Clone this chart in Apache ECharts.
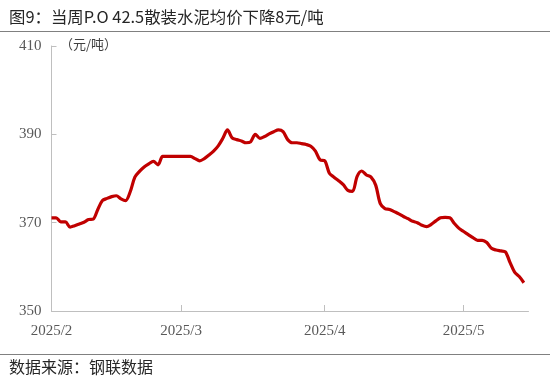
<!DOCTYPE html>
<html><head><meta charset="utf-8">
<script src="https://cdn.jsdelivr.net/npm/echarts@6/dist/echarts.min.js"></script>
<style>html,body{margin:0;padding:0;background:#fff}#c{width:550px;height:381px}</style>
</head><body><div id="c"></div>
<script>
const titleText = '图9：当周P.O 42.5散装水泥均价下降8元/吨';
const sourceText = '数据来源：钢联数据';
const unitText = '（元/吨）';
const monthTicks = ['2025-02-01','2025-03-01','2025-04-01','2025-05-01'];
const xRange = ['2025-02-01','2025-05-15'];
const yRange = [350, 410, 20];
const dates = [
'02-01','02-02','02-03','02-04','02-05','02-06','02-07','02-08','02-09','02-10',
'02-11','02-12','02-13','02-14','02-15','02-16','02-17','02-18','02-19','02-20',
'02-21','02-22','02-23','02-24','02-25','02-26','02-27','02-28','03-01','03-02',
'03-03','03-04','03-05','03-06','03-07','03-08','03-09','03-10','03-11','03-12',
'03-13','03-14','03-15','03-16','03-17','03-18','03-19','03-20','03-21','03-22',
'03-23','03-24','03-25','03-26','03-27','03-28','03-29','03-30','03-31','04-01',
'04-02','04-03','04-04','04-05','04-06','04-07','04-08','04-09','04-10','04-11',
'04-12','04-13','04-14','04-15','04-16','04-17','04-18','04-19','04-20','04-21',
'04-22','04-23','04-24','04-25','04-26','04-27','04-28','04-29','04-30','05-01',
'05-02','05-03','05-04','05-05','05-06','05-07','05-08','05-09','05-10','05-11',
'05-12','05-13','05-14'];
const prices = [
371.1,371.1,370.2,370.2,369.0,369.3,369.7,370.1,370.7,370.8,
373.0,375.0,375.5,375.9,376.1,375.4,375.0,377.0,380.3,381.6,
382.6,383.3,383.9,383.1,385.0,385.0,385.0,385.0,385.0,385.0,
385.0,384.5,384.0,384.5,385.3,386.2,387.4,389.1,391.0,389.2,
388.8,388.5,388.1,388.3,390.0,389.1,389.5,390.1,390.6,391.0,
390.6,388.8,388.1,388.1,387.9,387.7,387.3,386.2,384.2,384.0,
381.2,380.3,379.5,378.6,377.3,377.1,380.5,381.7,380.8,380.3,
378.5,374.3,373.2,373.0,372.5,372.0,371.4,370.9,370.3,370.0,
369.4,369.1,369.6,370.4,371.1,371.2,371.1,369.8,368.7,368.0,
367.3,366.6,366.0,366.0,365.5,364.2,363.8,363.6,363.4,361.0,
358.8,357.8,356.4];

const ts = s => Date.UTC(+s.slice(0,4), +s.slice(5,7) - 1, +s.slice(8,10));
const chart = echarts.init(document.getElementById('c'), null, {renderer:'canvas'});
const cjk = '"Noto Sans CJK SC", sans-serif';
const serif = '"Liberation Serif", "Times New Roman", serif';
const tickVals = monthTicks.map(ts);
chart.setOption({
  animation: false,
  title: [
    {text: titleText, left: 4, top: 4, textStyle: {fontFamily: cjk, fontSize: 16.4, fontWeight: 'normal', color: '#262626'}},
    {text: sourceText, left: 4, top: 354, textStyle: {fontFamily: cjk, fontSize: 16, fontWeight: 'normal', color: '#262626'}}
  ],
  graphic: [
    {type: 'line', shape: {x1: 0, y1: 31.5, x2: 550, y2: 31.5}, style: {stroke: '#808080', lineWidth: 1}},
    {type: 'line', shape: {x1: 0, y1: 354.5, x2: 550, y2: 354.5}, style: {stroke: '#808080', lineWidth: 1}},
    {type: 'text', left: 60, top: 38, style: {text: unitText, fontFamily: cjk, fontSize: 13, fill: '#404040'}}
  ],
  grid: {left: 51.5, right: 21.5, top: 46, bottom: 70, containLabel: false},
  xAxis: {
    type: 'value',
    min: ts(xRange[0]), max: ts(xRange[1]),
    axisLine: {lineStyle: {color: '#BFBFBF'}},
    axisTick: {inside: true, length: 6, lineStyle: {color: '#BFBFBF'}, customValues: tickVals},
    axisLabel: {
      customValues: tickVals,
      formatter: v => { const d = new Date(v); return d.getUTCFullYear() + '/' + (d.getUTCMonth() + 1); },
      fontFamily: serif, fontSize: 15, color: '#595959', margin: 13, showMinLabel: true, hideOverlap: false
    },
    splitLine: {show: false}
  },
  yAxis: {
    type: 'value', min: yRange[0], max: yRange[1], interval: yRange[2],
    axisLine: {show: true, lineStyle: {color: '#BFBFBF'}},
    axisTick: {show: true, inside: true, length: 5, lineStyle: {color: '#BFBFBF'}},
    axisLabel: {fontFamily: serif, fontSize: 15, color: '#595959', margin: 10},
    splitLine: {show: false}
  },
  series: [{
    type: 'line',
    data: dates.map((d, i) => [ts('2025-' + d), prices[i]]),
    showSymbol: false, smooth: 0.3,
    lineStyle: {color: '#C00000', width: 3.2},
    itemStyle: {color: '#C00000'}
  }]
});
</script></body></html>
